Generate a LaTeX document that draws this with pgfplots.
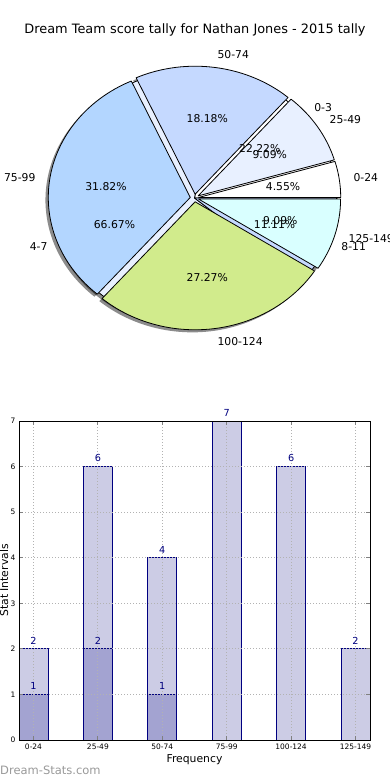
\documentclass[border=0pt]{standalone}
\usepackage{pgfplots}
\pgfplotsset{compat=1.18}
\usepackage{fontspec}
\setmainfont{DejaVu Sans}

\definecolor{navyc}{RGB}{0,0,128}
\definecolor{lightbar}{RGB}{204,204,229}
\definecolor{darkbar}{RGB}{163,163,209}
\definecolor{pA}{RGB}{255,255,255}
\definecolor{pB}{RGB}{232,240,255}
\definecolor{pC}{RGB}{197,217,255}
\definecolor{pD}{RGB}{179,214,255}
\definecolor{pE}{RGB}{209,235,140}
\definecolor{pF}{RGB}{217,255,255}

\newcommand\pielabelfont{\fontsize{10.8bp}{12bp}\selectfont}
\def\RX{142bp}
\def\RY{128bp}

% running angle computation from the plain values
\newcommand\pieAngles[2]{%
  \pgfmathsetmacro\aS{360*\pieCum/#2}%
  \pgfmathsetmacro\tmpc{\pieCum+#1}%
  \xdef\pieCum{\tmpc}%
  \pgfmathsetmacro\aE{360*\pieCum/#2}%
  \pgfmathsetmacro\aM{(\aS+\aE)/2}}

% #1 value #2 total #3 explode
\newcommand\pieShadow[3]{\pieAngles{#1}{#2}%
  \pgfmathsetmacro\eX{#3*cos(\aM)-0.02}%
  \pgfmathsetmacro\eY{#3*sin(\aM)-0.02}%
  \edef\tmp{\noexpand\fill[black,opacity=0.45] (axis cs:\eX,\eY) -- ++(\aS:\RX\space and \RY) arc[start angle=\aS,end angle=\aE,x radius=\RX,y radius=\RY] -- cycle;}\tmp}

% #1 value #2 total #3 colour #4 explode
\newcommand\pieFill[4]{\pieAngles{#1}{#2}%
  \pgfmathsetmacro\eX{#4*cos(\aM)}%
  \pgfmathsetmacro\eY{#4*sin(\aM)}%
  \edef\tmp{\noexpand\filldraw[fill=#3,draw=black,line width=0.8bp,line join=round] (axis cs:\eX,\eY) -- ++(\aS:\RX\space and \RY) arc[start angle=\aS,end angle=\aE,x radius=\RX,y radius=\RY] -- cycle;}\tmp}

% #1 value #2 total #3 explode #4 name #5 percent text
\newcommand\pieLabel[5]{\pieAngles{#1}{#2}%
  \pgfmathsetmacro\nX{(#3+1.1)*cos(\aM)}%
  \pgfmathsetmacro\nY{(#3+1.1)*sin(\aM)}%
  \pgfmathsetmacro\pX{(#3+0.6)*cos(\aM)}%
  \pgfmathsetmacro\pY{(#3+0.6)*sin(\aM)}%
  \ifdim\nX pt>0pt \def\anc{west}\else\def\anc{east}\fi
  \edef\tmp{\noexpand\node[anchor=\anc,inner sep=0pt,font=\noexpand\pielabelfont] at (axis cs:\nX,\nY) {#4}; \noexpand\node[inner sep=0pt,font=\noexpand\pielabelfont] at (axis cs:\pX,\pY) {#5};}\tmp}

\begin{document}
\begin{tikzpicture}
\useasboundingbox (0,0) rectangle (390bp,780bp);

\node[font=\fontsize{12.9bp}{14bp}\selectfont] at (195bp,750bp) {Dream Team score tally for Nathan Jones - 2015 tally};

% ---------- pie ----------
\begin{axis}[at={(194.5bp,582bp)}, anchor=center, x=142bp, y=128bp,
  xmin=-1.05, xmax=1.05, ymin=-1.05, ymax=1.05, hide axis, clip=false]
  % shadows
  \gdef\pieCum{0}
  \pieShadow{2}{9}{0}\pieShadow{6}{9}{0}\pieShadow{1}{9}{0}
  \gdef\pieCum{0}
  \pieShadow{1}{22}{0.03}\pieShadow{2}{22}{0.03}\pieShadow{4}{22}{0.03}
  \pieShadow{7}{22}{0.03}\pieShadow{6}{22}{0.03}\pieShadow{2}{22}{0.03}
  % second series (0-3, 4-7, 8-11)
  \gdef\pieCum{0}
  \pieFill{2}{9}{pA}{0}\pieFill{6}{9}{pB}{0}\pieFill{1}{9}{pC}{0}
  % first series
  \gdef\pieCum{0}
  \pieFill{1}{22}{pA}{0.03}\pieFill{2}{22}{pB}{0.03}\pieFill{4}{22}{pC}{0.03}
  \pieFill{7}{22}{pD}{0.03}\pieFill{6}{22}{pE}{0.03}\pieFill{2}{22}{pF}{0.03}
  % labels
  \gdef\pieCum{0}
  \pieLabel{1}{22}{0.03}{0-24}{4.55\%}
  \pieLabel{2}{22}{0.03}{25-49}{9.09\%}
  \pieLabel{4}{22}{0.03}{50-74}{18.18\%}
  \pieLabel{7}{22}{0.03}{75-99}{31.82\%}
  \pieLabel{6}{22}{0.03}{100-124}{27.27\%}
  \pieLabel{2}{22}{0.03}{125-149}{9.09\%}
  \gdef\pieCum{0}
  \pieLabel{2}{9}{0}{0-3}{22.22\%}
  \pieLabel{6}{9}{0}{4-7}{66.67\%}
  \pieLabel{1}{9}{0}{8-11}{11.11\%}
\end{axis}

% ---------- bars ----------
\begin{axis}[at={(19bp,40bp)}, anchor=south west, scale only axis,
  width=351bp, height=319bp,
  xmin=-0.225, xmax=5.225, ymin=0, ymax=7,
  xtick={0,1,2,3,4,5},
  xticklabels={0-24,25-49,50-74,75-99,100-124,125-149},
  ytick={0,1,2,3,4,5,6,7},
  axis line style={black, line width=0.9bp},
  tick align=inside, major tick length=4bp,
  major tick style={gray, line width=0.8bp},
  grid=major, grid style={gray!60, line width=0.9bp, dash pattern=on 1bp off 2bp},
  axis on top,
  ticklabel style={font=\fontsize{7.5bp}{9bp}\selectfont},
  /pgf/number format/assume math mode=true,
  xlabel={Frequency}, ylabel={Stat Intervals},
  every axis x label/.style={at={(axis description cs:0.5,-0.0627)}, anchor=center, font=\fontsize{10.8bp}{12bp}\selectfont},
  every axis y label/.style={at={(axis description cs:-0.0427,0.5)}, rotate=90, anchor=center, font=\fontsize{10.8bp}{12bp}\selectfont},
]
\addplot[ybar, bar width=0.45, bar shift=0pt, fill=lightbar, draw=navyc, line width=0.9bp,
  nodes near coords, every node near coord/.append style={text=navyc, font=\fontsize{9.7bp}{11bp}\selectfont, anchor=south, inner sep=0pt, yshift=4bp}]
  coordinates {(0,2) (1,6) (2,4) (3,7) (4,6) (5,2)};
\addplot[ybar, bar width=0.45, bar shift=0pt, fill=darkbar, draw=navyc, line width=0.9bp,
  nodes near coords, every node near coord/.append style={text=navyc, font=\fontsize{9.7bp}{11bp}\selectfont, anchor=south, inner sep=0pt, yshift=4bp}]
  coordinates {(0,1) (1,2) (2,1)};
\end{axis}

\node[anchor=west, inner sep=0pt, text=black!40, font=\fontsize{11.5bp}{13bp}\selectfont] at (0bp,10bp) {Dream-Stats.com};
\end{tikzpicture}
\end{document}
